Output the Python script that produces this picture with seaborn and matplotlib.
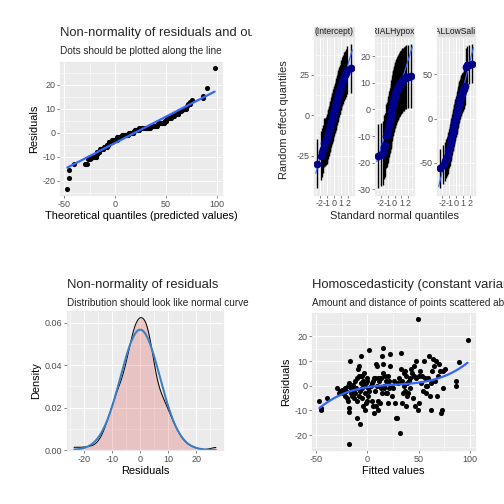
import numpy as np
import pandas as pd
import matplotlib
matplotlib.use("Agg")
import matplotlib.pyplot as plt
from matplotlib.ticker import MultipleLocator, AutoMinorLocator
from matplotlib.transforms import Bbox, TransformedBbox
from statistics import NormalDist
import seaborn as sns

# ---------------------------------------------------------------------------
# data (fitted value, residual) pairs
# ---------------------------------------------------------------------------
fitted_vals = [
    -47, -45.5, -45, -40, -30, -28, -27, -25, -24, -22, -22, -21, -20, -19, -19,
    -18, -18, -18, -18, -17, -16, -16, -15, -14, -14, -13, -12, -12, -11, -10,
    -10, -10, -9, -8, -8, -8, -7, -7, -7, -6, -6, -5, -5, -5, -4, -4, -3, -3,
    -2, -2, -1, -1, 0, 0, 0, 1, 1, 2, 2, 3, 4, 4, 5, 5, 6, 6, 7, 7, 8, 8, 9, 9,
    10, 10, 10, 11, 12, 12, 13, 13, 14, 14, 15, 15, 15, 16, 16, 17, 18, 18, 19,
    20, 20, 21, 21, 22, 22, 23, 24, 24, 25, 26, 27, 28, 29, 30, 31, 32, 33, 33,
    34, 34, 35, 36, 36, 37, 37, 38, 38, 39, 39, 40, 41, 42, 42, 43, 44, 45, 46,
    46, 47, 48, 48, 49, 49, 50, 50, 51, 52, 53, 54, 55, 56, 57, 57, 58, 59, 60,
    61, 62, 62, 63, 64, 65, 66, 67, 68, 69, 70, 71, 72, 73, 74, 74, 76, 87, 87,
    90, 98,
]
resid_vals = [
    -6, -10, -9, -5, -1, -3, -2, -1.5, -3, -4, -1, -2, -5, 0, -6,
    1, -9, -10.5, -23.5, 10, -3, -1, -4, -2, 0.5, -5, -3, 2, -1, -6,
    -13, 3, 7, 8, -4, 4, 4, -15.5, -2, 1, 12, -1, -5, 4, 2, -8, 0, 5,
    -3, -10, 1, -7, -6, 2, 3, -1, -4, 14.5, -2, 0, -6, 1, 2, -8, -11, 3, -2, 3, -8, 9, 8, 0,
    -6, -10, 3, 2, -7, 3, 3, -1, -3, 12, 15.5, 9, 5, 0, -1, 4, 2, -3, -3,
    4, -7, -1, 2, 13, 8, 0, -4, -0.5, -1, 2, -7, -13, -13, 1, 3, -19, 7, 13.5,
    -7, 2, -3, 5, 0, -2, 6, 4, -8, 1, -4, -3, 2, -1, 3, 7, 5, -5, 8,
    4, -8, 3, 10, -10, 27, -7, 4, 6, 1, 4, -2, 10, 3, -3, 0, 0, 3, 12,
    -4, 1, -10, 6, 11, 8, 2, 10, -4, 4, 9, 6, -11, -10, -1, 6, 7, 2, 0,
    9.5, 18.5,
]

# random effect estimates (sorted) per term, with error-bar half widths
re_terms = ["(Intercept)", "TRIALHypoxia", "TRIALLowSalinity"]
re_intercept = [
    -30, -25, -23, -21, -17, -16.5, -16, -15, -14, -12, -11, -10, -9, -8, -7,
    -6, -5, -4, -3, -2, -1.5, -1, 0, 1, 2, 3, 4, 4.5, 5, 6, 7, 8, 9, 10, 11,
    12, 13, 14, 15, 15.5, 16, 18, 19, 21, 22, 24, 25, 26, 28, 29,
]
re_hypoxia = [
    -17.5, -17, -16.5, -14, -13.5, -10, -9.5, -9, -8, -7, -6, -5, -4.5, -4, -3,
    -2, -1, 0, 1, 2, 2.5, 3, 3.5, 4, 4.5, 5, 5.5, 6, 6.3, 6.6, 7, 7.3, 7.6, 8,
    8.3, 8.6, 9, 9.3, 9.6, 10, 10.2, 10.5, 10.8, 11, 11.3, 11.6, 12, 12.2, 12.4, 12.6,
]
re_salinity = [
    -56, -52, -48, -45, -43, -40, -37, -34, -31, -28, -26, -24, -21, -19, -17,
    -15, -13, -11, -9, -7, -5, -3, -2, 0, 1, 3, 5, 7, 9, 11, 13, 15, 17, 19,
    21, 22, 23, 25, 26, 27, 28, 29, 31, 33, 35, 37, 58, 60, 61, 62,
]
re_values = [re_intercept, re_hypoxia, re_salinity]
re_halfwidth = [15, 12, 22]

W = 504.0
GREY_BG = "#EBEBEB"
SMOOTH_BLUE = "#3366FF"

sns.set_theme(style="darkgrid", rc={
    "axes.facecolor": GREY_BG,
    "axes.edgecolor": GREY_BG,
    "axes.unicode_minus": False,
    "grid.color": "white",
    "grid.linewidth": 1.0,
    "xtick.bottom": True,
    "ytick.left": True,
    "xtick.major.size": 2.75,
    "ytick.major.size": 2.75,
    "xtick.major.width": 0.6,
    "ytick.major.width": 0.6,
    "xtick.color": "#333333",
    "ytick.color": "#333333",
    "xtick.labelcolor": "#4D4D4D",
    "ytick.labelcolor": "#4D4D4D",
    "xtick.labelsize": 9,
    "ytick.labelsize": 9,
    "xtick.major.pad": 2,
    "ytick.major.pad": 2,
    "axes.labelsize": 11,
    "axes.labelcolor": "black",
})
plt.rcParams["font.family"] = ["Liberation Sans", "DejaVu Sans"]

fig = plt.figure(figsize=(7, 7), dpi=72)


def px_axes(x0, y0, x1, y1):
    return fig.add_axes([x0 / W, 1 - y1 / W, (x1 - x0) / W, (y1 - y0) / W])


def minor_grid(ax):
    ax.xaxis.set_minor_locator(AutoMinorLocator(2))
    ax.yaxis.set_minor_locator(AutoMinorLocator(2))
    ax.grid(which="minor", color="white", linewidth=0.5)
    ax.tick_params(which="minor", length=0)
    ax.set_axisbelow(True)


def clipped_text(x, y, s, size, clip_x1):
    # ggplot clips titles at the edge of each sub-plot
    t = fig.text(x / W, 1 - y / W, s, fontsize=size, ha="left", va="center")
    box = TransformedBbox(Bbox.from_extents(0, 0, clip_x1 / W, 1), fig.transFigure)
    t.set_clip_box(box)
    t.set_clip_on(True)
    return t


df = pd.DataFrame({"fitted": fitted_vals, "resid": resid_vals})

# --- top left: QQ style plot ------------------------------------------------
ax1 = px_axes(60, 62, 222, 195)
qq = pd.DataFrame({"x": np.sort(df["fitted"].values), "y": np.sort(df["resid"].values)})
sns.scatterplot(data=qq, x="x", y="y", ax=ax1, color="black", s=26, linewidth=0)
sns.regplot(data=qq, x="x", y="y", ax=ax1, scatter=False, ci=None,
            color=SMOOTH_BLUE, line_kws={"linewidth": 2.2})
ax1.set_xticks([-50, 0, 50, 100])
ax1.set_yticks([-20, -10, 0, 10, 20])
minor_grid(ax1)
ax1.set_xlabel("Theoretical quantiles (predicted values)", labelpad=2)
ax1.set_ylabel("Residuals", labelpad=3)
clipped_text(60, 33, "Non-normality of residuals and outliers", 13, 252)
clipped_text(60, 51, "Dots should be plotted along the line", 10, 252)

# --- top right: random effects QQ facets -----------------------------------
facet_x = [(314, 354), (375, 414), (437, 475)]
for (x0, x1), term, vals, hw in zip(facet_x, re_terms, re_values, re_halfwidth):
    n = len(vals)
    qn = [NormalDist().inv_cdf((i + 0.5) / n) for i in range(n)]
    fd = pd.DataFrame({"q": qn, "v": vals})
    ax = px_axes(x0, 37, x1, 195)
    ax.vlines(fd["q"], fd["v"] - hw, fd["v"] + hw, color="black", linewidth=1.4)
    sns.regplot(data=fd, x="q", y="v", ax=ax, scatter=False, ci=None, truncate=False,
                color=SMOOTH_BLUE, line_kws={"linewidth": 1.2})
    sns.scatterplot(data=fd, x="q", y="v", ax=ax, color="#00008B", s=60, linewidth=0, zorder=3)
    ax.set_xlim(-2.8, 2.8)
    ax.set_xticks([-2, -1, 0, 1, 2])
    ax.set_xticklabels(["-2", "-1", "0", "1", "2"])
    ax.tick_params(axis="x", pad=1)
    if term == "(Intercept)":
        ax.yaxis.set_major_locator(MultipleLocator(25))
    elif term == "TRIALHypoxia":
        ax.yaxis.set_major_locator(MultipleLocator(10))
    else:
        ax.yaxis.set_major_locator(MultipleLocator(50))
    minor_grid(ax)
    ax.set_xlabel("")
    ax.set_ylabel("")
    strip = px_axes(x0, 27, x1, 37)
    strip.set_facecolor("#D9D9D9")
    strip.grid(False)
    strip.set_xticks([])
    strip.set_yticks([])
    strip.text(0.5, 0.5, term, ha="center", va="center", fontsize=8.5,
               color="#1A1A1A", transform=strip.transAxes, clip_on=True)

fig.text(284 / W, 1 - 120 / W, "Random effect quantiles", rotation=90,
         ha="center", va="center", fontsize=11)
fig.text(394 / W, 1 - 216 / W, "Standard normal quantiles",
         ha="center", va="center", fontsize=11)

# --- bottom left: density of residuals ---------------------------------------
ax3 = px_axes(67, 311, 223, 450)
sns.kdeplot(data=df, x="resid", ax=ax3, fill=True, cut=0, bw_adjust=0.8,
            color="#D40000", alpha=0.17, linewidth=0)
sns.kdeplot(data=df, x="resid", ax=ax3, cut=0, bw_adjust=0.8, color="black", linewidth=1.0)
mu, sd = df["resid"].mean(), df["resid"].std()
grid = np.linspace(df["resid"].min(), df["resid"].max(), 200)
norm_curve = pd.DataFrame({"x": grid, "y": [NormalDist(mu, sd).pdf(g) for g in grid]})
sns.lineplot(data=norm_curve, x="x", y="y", ax=ax3, color="#3A7DC2", linewidth=2.0)
ax3.hlines(0, df["resid"].min(), df["resid"].max(), color="#333333", linewidth=1.0)
ax3.set_xticks([-20, -10, 0, 10, 20])
ax3.set_yticks([0, 0.02, 0.04, 0.06])
ax3.set_yticklabels(["0.00", "0.02", "0.04", "0.06"])
minor_grid(ax3)
ax3.set_xlabel("Residuals", labelpad=2)
ax3.set_ylabel("Density", labelpad=3)
clipped_text(67, 285, "Non-normality of residuals", 13, 252)
clipped_text(67, 303, "Distribution should look like normal curve", 10, 252)

# --- bottom right: homoscedasticity -----------------------------------------
ax4 = px_axes(312, 313, 475, 450)
sns.scatterplot(data=df, x="fitted", y="resid", ax=ax4, color="black", s=26, linewidth=0)
sns.regplot(data=df, x="fitted", y="resid", ax=ax4, scatter=False, ci=None, order=3,
            color=SMOOTH_BLUE, line_kws={"linewidth": 2.2})
ax4.set_xticks([-50, 0, 50, 100])
ax4.set_yticks([-20, -10, 0, 10, 20])
minor_grid(ax4)
ax4.set_xlabel("Fitted values", labelpad=2)
ax4.set_ylabel("Residuals", labelpad=3)
clipped_text(312, 285, "Homoscedasticity (constant variance of residuals)", 13, 504)
clipped_text(312, 303, "Amount and distance of points scattered above/below line is equal or randomly spread", 10, 504)

fig.savefig("out.png", dpi=72, facecolor="white")
